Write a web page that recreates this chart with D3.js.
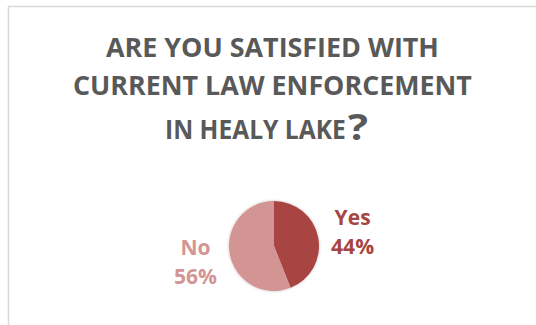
<!DOCTYPE html>
<html>
<head>
<meta charset="utf-8">
<script src="https://cdn.jsdelivr.net/npm/d3@7"></script>
<style>
  body { margin: 0; background: #fff; }
  svg { display: block; }
</style>
</head>
<body>
<svg id="chart" width="536" height="325"></svg>
<script>
// Data
const categories = ["Yes", "No"];
const values = [44, 56];
const colors = ["#A84542", "#D39594"];
const titleLines = ["ARE YOU SATISFIED WITH", "CURRENT LAW ENFORCEMENT", "IN HEALY LAKE"];

const svg = d3.select("#chart");
const width = +svg.attr("width");
const height = +svg.attr("height");

// chart frame
svg.append("rect")
  .attr("x", 8.5).attr("y", 6.5)
  .attr("width", 700).attr("height", 500)
  .attr("fill", "#fff")
  .attr("stroke", "#D9D9D9")
  .attr("stroke-width", 1.5);

// title (Calibri-like narrow look: squeeze Open Sans horizontally)
const title = svg.append("g")
  .attr("font-family", "'Open Sans', sans-serif")
  .attr("font-weight", "bold")
  .attr("fill", "#595959");

const titleY = [57, 95, 139];
const titleLeft = [106, 73, 165];
const titleW = [333, 399, 181];
titleLines.forEach((t, i) => {
  const txt = title.append("text")
    .attr("font-size", 26)
    .text(t);
  const natural = txt.node().getComputedTextLength();
  txt.attr("transform", `translate(${titleLeft[i]},${titleY[i]}) scale(${titleW[i] / natural},1)`);
});
// bigger question mark after the last line
const q = title.append("text").attr("font-size", 36).text("?");
const qn = q.node().getComputedTextLength();
q.attr("transform", `translate(${titleLeft[2] + titleW[2] + 2},140) scale(${20 / qn},1)`);

// pie
const cx = 274, cy = 246, r = 45;
const data = categories.map((c, i) => ({ name: c, value: values[i], color: colors[i] }));

const pie = d3.pie().value((d) => d.value).sort(null);
const arc = d3.arc().innerRadius(0).outerRadius(r);
const labelArc = d3.arc().innerRadius(80).outerRadius(80);

const defs = svg.append("defs");
const shadow = defs.append("filter").attr("id", "shadow")
  .attr("x", "-20%").attr("y", "-20%").attr("width", "140%").attr("height", "140%");
shadow.append("feGaussianBlur").attr("in", "SourceAlpha").attr("stdDeviation", 1.5);
shadow.append("feComponentTransfer").append("feFuncA").attr("type", "linear").attr("slope", 0.25);
const merge = shadow.append("feMerge");
merge.append("feMergeNode");
merge.append("feMergeNode").attr("in", "SourceGraphic");

const g = svg.append("g").attr("transform", `translate(${cx},${cy})`);
const slices = g.append("g").attr("filter", "url(#shadow)");
slices.selectAll("path")
  .data(pie(data))
  .join("path")
  .attr("d", arc)
  .attr("fill", (d) => d.data.color);

// labels
const labels = g.selectAll("g.label")
  .data(pie(data))
  .join("g")
  .attr("class", "label")
  .attr("transform", (d) => `translate(${labelArc.centroid(d)})`)
  .attr("font-family", "'Open Sans', sans-serif")
  .attr("font-weight", "bold")
  .attr("font-size", 21)
  .attr("text-anchor", "middle")
  .attr("fill", (d) => d.data.color);

labels.append("text").attr("y", -6).text((d) => d.data.name);
labels.append("text").attr("y", 23).text((d) => d.data.value + "%");
</script>
</body>
</html>
